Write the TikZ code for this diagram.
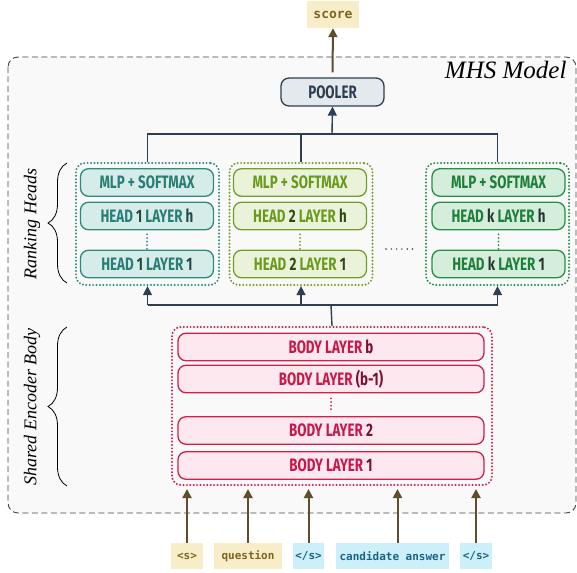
\documentclass[tikz,border=0pt]{standalone}
\usepackage{fontspec}
\setmainfont{Liberation Serif}
\setmonofont{DejaVu Sans Mono}
\newfontfamily\condfont{Fira Sans}[FakeStretch=0.74]
\usetikzlibrary{arrows.meta,decorations.pathreplacing,calc}

\definecolor{slate}{HTML}{2C3E50}
\definecolor{poolfill}{HTML}{E4E9EE}
\definecolor{tealline}{HTML}{2E8B80}
\definecolor{tealfill}{HTML}{D5ECE9}
\definecolor{tealtext}{HTML}{2A7D74}
\definecolor{tealdark}{HTML}{1F4A45}
\definecolor{oliveline}{HTML}{72A024}
\definecolor{olivefill}{HTML}{EAF3DA}
\definecolor{olivetext}{HTML}{6A9A1C}
\definecolor{olivedark}{HTML}{304A10}
\definecolor{greenline}{HTML}{249046}
\definecolor{greenfill}{HTML}{D5EDDB}
\definecolor{greentext}{HTML}{1E7E3A}
\definecolor{greendark}{HTML}{27362B}
\definecolor{redline}{HTML}{D0204A}
\definecolor{redfill}{HTML}{FCE8EE}
\definecolor{redtext}{HTML}{C8174A}
\definecolor{reddark}{HTML}{7A1030}
\definecolor{sandfill}{HTML}{F8EDC9}
\definecolor{sandtext}{HTML}{7D6520}
\definecolor{skyfill}{HTML}{CDEFFA}
\definecolor{skytext}{HTML}{1A6585}
\definecolor{tokarrow}{HTML}{5E4E2C}
\definecolor{panelfill}{HTML}{F9F9F9}
\definecolor{panelline}{HTML}{444444}

\tikzset{
  layer/.style={draw, rounded corners=8pt, line width=1.3pt, minimum height=27.5pt,
    inner sep=0pt, font=\condfont\bfseries\fontsize{18}{18}\selectfont},
  headbox/.style={layer, minimum width=133pt},
  bodybox/.style={layer, minimum width=306pt},
  tealbox/.style={headbox, draw=tealline, fill=tealfill, text=tealtext},
  olivebox/.style={headbox, draw=oliveline, fill=olivefill, text=olivetext},
  greenbox/.style={headbox, draw=greenline, fill=greenfill, text=greentext},
  redbox/.style={bodybox, draw=redline, fill=redfill, text=redtext},
  group/.style={draw, line width=2.2pt, dash pattern=on 0pt off 3.4pt, line cap=round,
    rounded corners=9pt, inner sep=0pt},
  headgroup/.style={group, minimum width=143pt, minimum height=122pt},
  vdots/.style={line width=2pt, dash pattern=on 0pt off 3.6pt, line cap=round},
  conn/.style={draw=slate, line width=1.4pt},
  upconn/.style={conn, -{Triangle[length=9pt,width=9pt]}},
  tokarr/.style={draw=tokarrow, line width=2pt, -{Triangle[length=9pt,width=9pt]}},
  token/.style={minimum height=26pt, inner sep=0pt, font=\ttfamily\bfseries\fontsize{11}{11}\selectfont},
  sandtok/.style={token, fill=sandfill, text=sandtext},
  skytok/.style={token, fill=skyfill, text=skytext},
  sidelabel/.style={rotate=90, font=\itshape\fontsize{18}{18}\selectfont},
  sidebrace/.style={draw, line width=0.8pt, decorate, decoration={brace, amplitude=19pt}}
}

\begin{document}
\begin{tikzpicture}[x=1pt, y=-1pt]
\useasboundingbox (0,0) rectangle (577,572);

% model panel
\path[draw=panelline, fill=panelfill, line width=0.9pt, dash pattern=on 6pt off 3.5pt,
  rounded corners=10pt] (8,57) rectangle (576,513);
\node[anchor=base east, font=\itshape\fontsize{25}{25}\selectfont] (title) at (570,79) {MHS Model};

% output
\node[token, fill=sandfill, text=sandtext, minimum width=52pt, minimum height=27pt,
  font=\ttfamily\bfseries\fontsize{13}{13}\selectfont] (score) at (333,14.5) {score};
\node[layer, draw=slate, fill=poolfill, text=slate, minimum width=103pt, minimum height=28pt]
  (pool) at (332.5,92) {POOLER};
\draw[draw=tokarrow, line width=2pt, -{Triangle[length=9pt,width=9pt]}]
  (pool.north) ++(0,-5) coordinate (pooltop) (pooltop) -- (score.south);

% ranking heads
\node[headgroup, draw=tealline] (g1) at (147.5,224) {};
\node[headgroup, draw=oliveline] (g2) at (301,224) {};
\node[headgroup, draw=greenline] (g3) at (497.5,224) {};

\node[tealbox] (m1) at (147,182.5) {MLP + SOFTMAX};
\node[tealbox] (h1t) at (147,216) {HEAD \textcolor{tealdark}{1} LAYER \textcolor{tealdark}{h}};
\node[tealbox] (h1b) at (147,264) {HEAD \textcolor{tealdark}{1} LAYER \textcolor{tealdark}{1}};
\draw[vdots, draw=tealline] (h1t.south) ++(0,4) -- (h1b.north);

\node[olivebox] (m2) at (300,182.5) {MLP + SOFTMAX};
\node[olivebox] (h2t) at (300,216) {HEAD \textcolor{olivedark}{2} LAYER \textcolor{olivedark}{h}};
\node[olivebox] (h2b) at (300,264) {HEAD \textcolor{olivedark}{2} LAYER \textcolor{olivedark}{1}};
\draw[vdots, draw=oliveline] (h2t.south) ++(0,4) -- (h2b.north);

\node[greenbox] (m3) at (498.5,182.5) {MLP + SOFTMAX};
\node[greenbox] (h3t) at (498.5,216) {HEAD \textcolor{greendark}{k} LAYER \textcolor{greendark}{h}};
\node[greenbox] (h3b) at (498.5,264) {HEAD \textcolor{greendark}{k} LAYER \textcolor{greendark}{1}};
\draw[vdots, draw=greenline] (h3t.south) ++(0,4) -- (h3b.north);

\draw[line width=1.6pt, dash pattern=on 0pt off 5.3pt, line cap=round, draw=slate]
  (386,249) -- (414,249);

% heads into pooler
\coordinate (ub) at (332,134);
\draw[conn] (g1.north) -- (g1.north |- ub) -- (g3.north |- ub) -- (g3.north);
\draw[conn] (g2.north) -- (g2.north |- ub);
\draw[upconn] (ub) -- (pool.south);

% shared body
\node[group, draw=redline, minimum width=320pt, minimum height=158pt] (body) at (332,406) {};
\node[redbox] (bb) at (331,347) {BODY LAYER \textcolor{reddark}{b}};
\node[redbox] (bb1) at (331,379) {BODY LAYER \textcolor{reddark}{(b-1)}};
\node[redbox] (b2) at (331,430.5) {BODY LAYER \textcolor{reddark}{2}};
\node[redbox] (b1) at (331,465.5) {BODY LAYER \textcolor{reddark}{1}};
\draw[vdots, draw=redline] (bb1.south) ++(0,5) -- ++(0,14);

% body into heads
\coordinate (lb) at (331,305);
\draw[conn] (body.north) -- (lb);
\draw[conn] (g1.south |- lb) -- (g3.south |- lb);
\draw[upconn] (g1.south |- lb) -- (g1.south);
\draw[upconn] (lb -| g2.south) -- (g2.south);
\draw[upconn] (g3.south |- lb) -- (g3.south);

% side braces
\draw[sidebrace] (67,283) -- (67,163);
\node[sidelabel] (rh) at (32,224) {Ranking Heads};
\draw[sidebrace] (67,486) -- (67,327);
\node[sidelabel] (seb) at (32,407) {Shared Encoder Body};

% input tokens
\node[sandtok, minimum width=32pt] (t1) at (187,556) {<s>};
\node[sandtok, minimum width=68pt] (t2) at (248,556) {question};
\node[skytok, minimum width=31pt] (t3) at (308.5,556) {</s>};
\node[skytok, minimum width=113pt] (t4) at (392.5,556) {candidate answer};
\node[skytok, minimum width=32pt] (t5) at (476,556) {</s>};

\coordinate (bt) at (331,489);
\draw[tokarr] (t1.north) -- (t1.north |- bt);
\draw[tokarr] (t2.north) -- (t2.north |- bt);
\draw[tokarr] (t3.north) -- (t3.north |- bt);
\draw[tokarr] ($(t4.north)+(5,0)$) coordinate (t4a) -- (t4a |- bt);
\draw[tokarr] (t5.north) -- (t5.north |- bt);
\end{tikzpicture}
\end{document}
